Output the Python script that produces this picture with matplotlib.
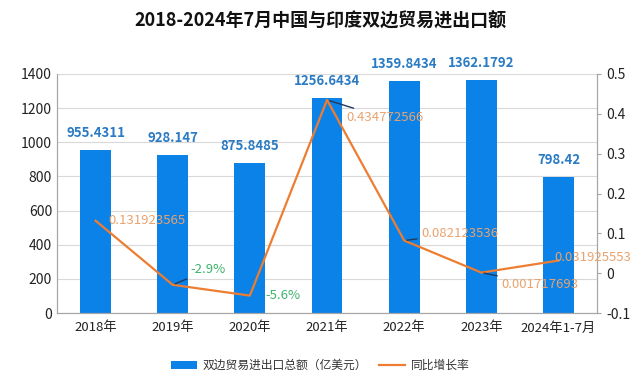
import matplotlib
matplotlib.use("Agg")
import matplotlib.pyplot as plt
from matplotlib.lines import Line2D
from matplotlib.patches import Patch

plt.rcParams['font.family'] = ['Noto Sans CJK SC', 'DejaVu Sans']

categories = ["2018年", "2019年", "2020年", "2021年", "2022年", "2023年", "2024年1-7月"]
trade = [955.4311, 928.147, 875.8485, 1256.6434, 1359.8434, 1362.1792, 798.42]
trade_labels = ["955.4311", "928.147", "875.8485", "1256.6434", "1359.8434", "1362.1792", "798.42"]
growth = [0.131923565, -0.029, -0.056, 0.434772566, 0.082123536, 0.001717693, 0.031925553]
growth_labels = ["0.131923565", "-2.9%", "-5.6%", "0.434772566", "0.082123536", "0.001717693", "0.031925553"]

bar_color = "#0A82E8"
line_color = "#ED7D31"
label_blue = "#2A7BC4"
label_orange = "#E9A36F"
label_green = "#3DB36B"
grid_color = "#D9D9D9"
spine_color = "#A6A6A6"

fig = plt.figure(figsize=(6.4, 3.89), dpi=100)
ax = fig.add_axes([0.089, 0.195, 0.844, 0.615])
ax2 = ax.twinx()

x = list(range(len(categories)))
ax.bar(x, trade, width=0.4, color=bar_color, zorder=2)
ax.set_ylim(0, 1400)
ax.set_yticks(range(0, 1401, 200))
ax.set_xlim(-0.5, len(categories) - 0.5)
ax.set_xticks(x)
ax.set_xticklabels(categories)
ax.grid(axis='y', color=grid_color, linewidth=0.8, zorder=0)
ax.set_axisbelow(True)

for i, (v, lab) in enumerate(zip(trade, trade_labels)):
    ax.annotate(lab, (i, v), xytext=(0, 10), textcoords='offset pixels',
                ha='center', va='bottom', fontsize=9.5, fontweight='bold',
                color=label_blue, annotation_clip=False)

ax2.plot(x, growth, color=line_color, linewidth=1.6, zorder=3)
ax2.set_ylim(-0.1, 0.5)
ax2.set_yticks([-0.1, 0, 0.1, 0.2, 0.3, 0.4, 0.5])
ax2.set_yticklabels(["-0.1", "0", "0.1", "0.2", "0.3", "0.4", "0.5"])

# offsets (pixels) for growth labels, leader line on some
offsets = [(13, 0), (18, 15), (16, 0), (19, -18), (17, 7), (20, -12), (-4, 3)]
leaders = [False, True, False, True, True, True, False]
for i, (v, lab) in enumerate(zip(growth, growth_labels)):
    col = label_green if v < 0 else label_orange
    kw = {}
    if leaders[i]:
        kw['arrowprops'] = dict(arrowstyle='-', color='#1F3A5F', lw=1.0,
                                shrinkA=1, shrinkB=2)
    ax2.annotate(lab, (i, v), xytext=offsets[i], textcoords='offset pixels',
                 ha='left', va='center', fontsize=9.5, color=col,
                 annotation_clip=False, **kw)

for a in (ax, ax2):
    a.spines['top'].set_visible(False)
    for s in ('left', 'right', 'bottom'):
        a.spines[s].set_color(spine_color)
    a.tick_params(labelsize=10, colors='#222222', length=3, color=spine_color)
ax.tick_params(axis='x', length=0, pad=6, labelsize=9.5)
ax.tick_params(axis='y', length=0)

fig.suptitle("2018-2024年7月中国与印度双边贸易进出口额", x=0.5, y=0.97,
             fontsize=13, fontweight='bold', color='#111111')

handles = [Patch(facecolor=bar_color, edgecolor='none'),
           Line2D([0], [0], color=line_color, linewidth=1.6)]
fig.legend(handles, ["双边贸易进出口总额（亿美元）", "同比增长率"],
           loc='center', bbox_to_anchor=(0.5, 0.06), ncol=2, frameon=False,
           fontsize=8.5, handlelength=2.2, columnspacing=1.0, handletextpad=0.5,
           labelcolor='#333333')

fig.savefig("out.png", dpi=100)
